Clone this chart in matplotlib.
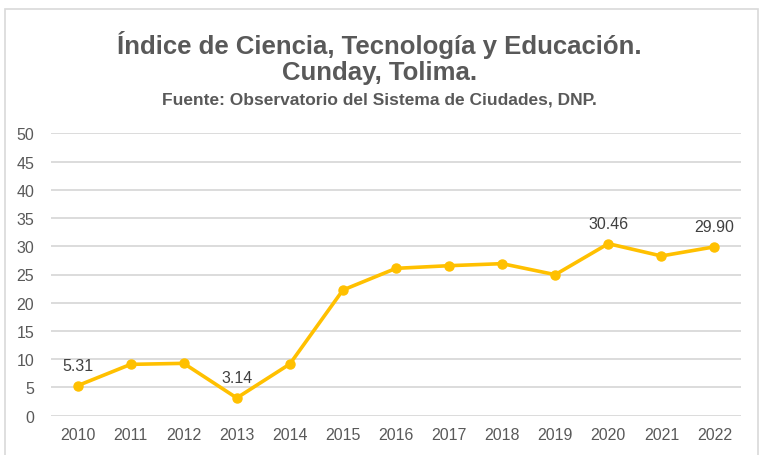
import matplotlib
matplotlib.use("Agg")
import matplotlib.pyplot as plt
from matplotlib.patches import Rectangle

years = ["2010", "2011", "2012", "2013", "2014", "2015", "2016", "2017", "2018", "2019", "2020", "2021", "2022"]
values = [5.31, 9.09, 9.27, 3.14, 9.15, 22.25, 26.09, 26.56, 26.92, 24.97, 30.46, 28.28, 29.90]
labeled = {"2010": 5.31, "2013": 3.14, "2020": 30.46, "2022": 29.90}
yticks = [0, 5, 10, 15, 20, 25, 30, 35, 40, 45, 50]

plt.rcParams['font.family'] = ['Liberation Sans', 'DejaVu Sans']
txt = "#595959"

fig = plt.figure(figsize=(7.59, 4.56), dpi=100)
fig.patch.set_facecolor("white")
fig.patches.append(Rectangle((4.5/759, -0.05), (757.5-4.5)/759, 1.05 - 9.5/456,
                             transform=fig.transFigure, fill=False, edgecolor="#D9D9D9", linewidth=1.2))

ax = fig.add_axes([51/759, 1 - 416.7/456, (741-51)/759, (416.7-134.3)/456])
x = list(range(len(years)))
ax.plot(x, values, color="#FFC000", linewidth=2.6, marker="o", markersize=6.5, zorder=3)
for i, (yr, v) in enumerate(zip(years, values)):
    if yr in labeled:
        ax.annotate(f"{labeled[yr]:.2f}", (i, v), xytext=(0, 9), textcoords="offset points",
                    ha="center", va="bottom", fontsize=11.5, color="#404040")

ax.set_xlim(-0.5, len(years) - 0.5)
ax.set_ylim(0, 50)
ax.set_yticks(yticks)
ax.set_xticks(x)
ax.set_xticklabels(years)
ax.grid(axis="y", color="#D9D9D9", linewidth=1.3)
ax.set_axisbelow(True)
for s in ax.spines.values():
    s.set_visible(False)
ax.tick_params(axis="both", length=0, labelsize=11.5, labelcolor=txt)
ax.tick_params(axis="x", pad=8)
ax.tick_params(axis="y", pad=12)

fig.text(0.5, 1 - 45/456, "Índice de Ciencia, Tecnología y Educación.", ha="center", va="center",
         fontsize=18.5, color=txt, fontweight="bold")
fig.text(0.5, 1 - 73/456, "Cunday, Tolima.", ha="center", va="center",
         fontsize=18.5, color=txt, fontweight="bold")
fig.text(0.5, 1 - 100/456, "Fuente: Observatorio del Sistema de Ciudades, DNP.", ha="center", va="center",
         fontsize=12.5, color=txt, fontweight="bold")

fig.savefig("out.png", dpi=100, facecolor="white")
